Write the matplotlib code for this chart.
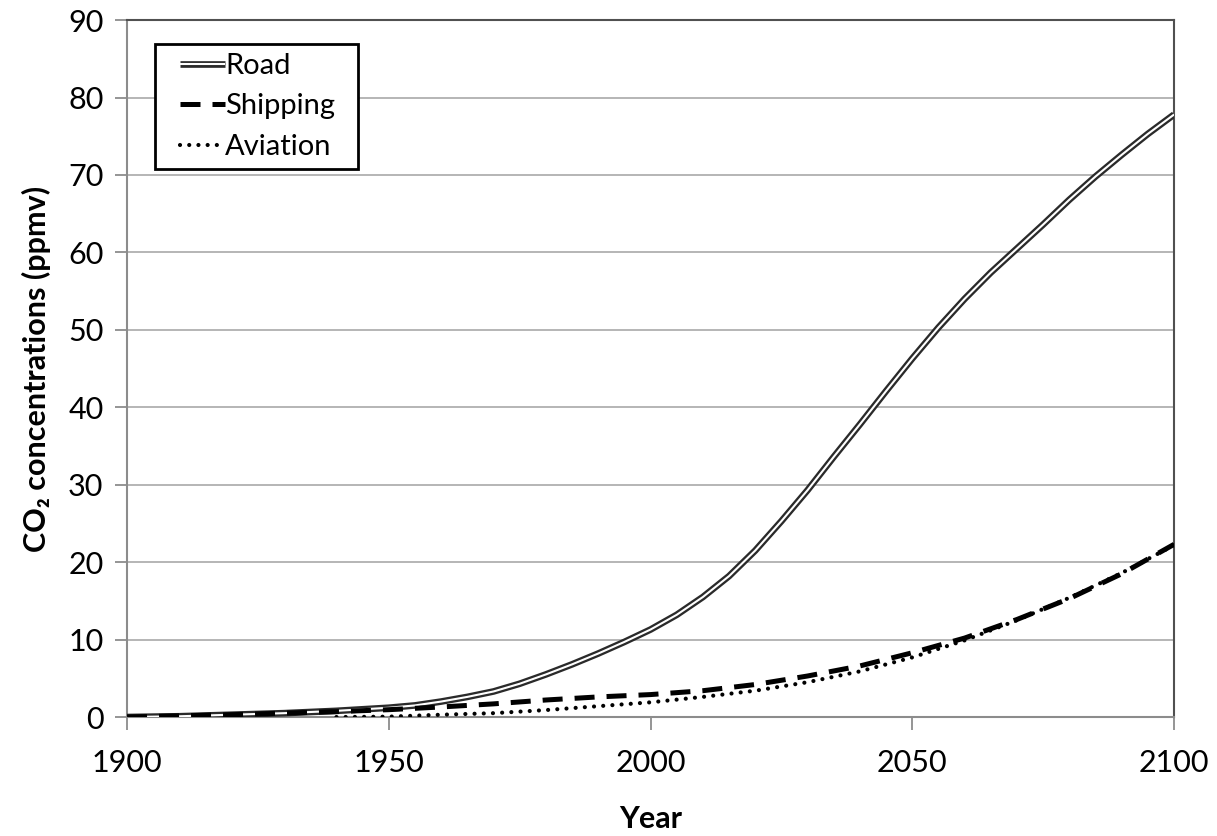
import matplotlib
matplotlib.use("Agg")
import matplotlib.pyplot as plt
import matplotlib.patheffects as pe
from matplotlib.legend_handler import HandlerLine2D
from matplotlib.lines import Line2D

plt.rcParams['font.family'] = ['Lato', 'DejaVu Sans']

years_road = list(range(1900, 2101, 5))
road = [0, 0.05, 0.1, 0.2, 0.3, 0.4, 0.5, 0.65, 0.8, 1.0, 1.2, 1.5, 2.0, 2.6, 3.3,
        4.3, 5.5, 6.8, 8.2, 9.7, 11.3, 13.2, 15.5, 18.2, 21.5, 25.3, 29.3, 33.6,
        37.8, 42.1, 46.3, 50.3, 54.0, 57.4, 60.5, 63.6, 66.8, 69.8, 72.6, 75.3, 77.8]

years_ship = list(range(1900, 2101, 10))
shipping = [0, 0.15, 0.3, 0.5, 0.7, 0.95, 1.3, 1.7, 2.2, 2.6, 2.9, 3.4, 4.2, 5.3,
            6.6, 8.3, 10.2, 12.6, 15.3, 18.5, 22.3]

years_avi = list(range(1940, 2101, 10))
aviation = [0, 0.05, 0.3, 0.5, 0.9, 1.4, 1.9, 2.6, 3.4, 4.5, 5.9, 7.7, 9.9, 12.5,
            15.4, 18.6, 22.2]

fig = plt.figure(figsize=(12.17, 8.36), dpi=100)
ax = fig.add_axes([0.1044, 0.1423, 0.8603, 0.8337])

ax.plot(years_road, road, color='white', lw=1.5, solid_capstyle='butt',
        path_effects=[pe.Stroke(linewidth=4.8, foreground='#2a2a2a'), pe.Normal()],
        label='Road', zorder=3)
ax.plot(years_ship, shipping, color='black', lw=3.6, dashes=(4, 2.4),
        label='Shipping', zorder=4)
ax.plot(years_avi, aviation, color='black', lw=3.0, dashes=(0.01, 2.2),
        dash_capstyle='round', label='Aviation', zorder=4)

ax.set_xlim(1900, 2100)
ax.set_ylim(0, 90)
ax.set_xticks(range(1900, 2101, 50))
ax.set_yticks(range(0, 91, 10))
ax.yaxis.grid(True, color='#b0b0b0', lw=1.3)
ax.set_axisbelow(True)
for s in ['left', 'bottom']:
    ax.spines[s].set_color('#8c8c8c')
    ax.spines[s].set_linewidth(1.5)
for s in ['top', 'right']:
    ax.spines[s].set_color('#505050')
    ax.spines[s].set_linewidth(1.5)
ax.tick_params(axis='both', direction='out', length=9, width=1.3, color='#8c8c8c',
               labelsize=22, pad=8)
ax.tick_params(axis='x', pad=14)

ax.set_xlabel('Year', fontsize=22, fontweight='bold', labelpad=20)
ax.set_ylabel('CO₂ concentrations (ppmv)', fontsize=22, fontweight='bold', labelpad=12)

box_top = 0.9656
leg = ax.legend(loc='upper left', bbox_to_anchor=(0.0267, box_top - 0.2, 0.194, 0.2),
                mode='expand', fontsize=21,
                handlelength=2.1, handletextpad=0.0, borderpad=0.3,
                labelspacing=0.5, fancybox=False, framealpha=1, borderaxespad=0,
                handler_map={Line2D: HandlerLine2D(xpad=0.55)})
leg.get_frame().set_edgecolor('black')
leg.get_frame().set_linewidth(2)

fig.savefig('out.png', dpi=100)
